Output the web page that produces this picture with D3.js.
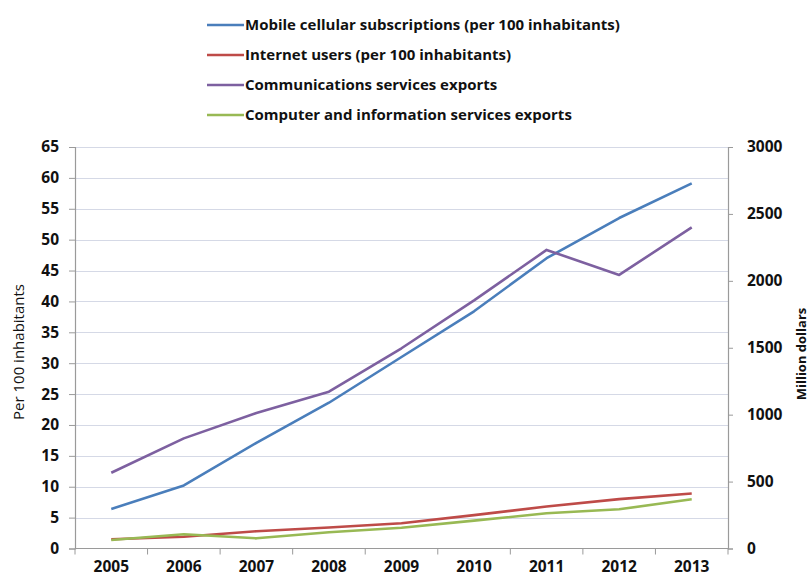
<!DOCTYPE html>
<html>
<head>
<meta charset="utf-8">
<script src="https://cdn.jsdelivr.net/npm/d3@7"></script>
<style>
  html, body { margin: 0; padding: 0; background: #fff; }
  svg { display: block; }
  text { font-family: "Open Sans", "DejaVu Sans", sans-serif; fill: #111; }
</style>
</head>
<body>
<svg id="chart" width="811" height="579"></svg>
<script>
// Years on the category axis
const years = ["2005", "2006", "2007", "2008", "2009", "2010", "2011", "2012", "2013"];

// Per 100 inhabitants (left axis)
const mobileSubs = [6.4, 10.2, 17.1, 23.6, 31.0, 38.4, 47.0, 53.5, 59.1];
const internetUsers = [1.5, 1.9, 2.8, 3.4, 4.1, 5.4, 6.8, 8.0, 8.9];

// Million dollars (right axis)
const commExports = [566, 823, 1012, 1172, 1496, 1854, 2231, 2044, 2400];
const computerExports = [63, 106, 76, 121, 155, 208, 263, 293, 368];

const leftTicks = [0, 5, 10, 15, 20, 25, 30, 35, 40, 45, 50, 55, 60, 65];
const rightTicks = [0, 500, 1000, 1500, 2000, 2500, 3000];

const seriesList = [
  { name: "Mobile cellular subscriptions (per 100 inhabitants)", values: mobileSubs, axis: "left", color: "#4a7ebb" },
  { name: "Internet users (per 100 inhabitants)", values: internetUsers, axis: "left", color: "#be4b48" },
  { name: "Communications services exports", values: commExports, axis: "right", color: "#7d60a0" },
  { name: "Computer and information services exports", values: computerExports, axis: "right", color: "#98b954" }
];

const svg = d3.select("#chart");
const plot = { left: 75, right: 728, top: 147, bottom: 548.5 };

const x = d3.scaleBand().domain(years).range([plot.left, plot.right]);
const yL = d3.scaleLinear().domain([0, 65]).range([plot.bottom, plot.top]);
const yR = d3.scaleLinear().domain([0, 3000]).range([plot.bottom, plot.top]);

// Horizontal gridlines on the left-axis ticks
svg.append("g")
  .selectAll("line")
  .data(leftTicks.filter(d => d > 0))
  .join("line")
  .attr("x1", plot.left).attr("x2", plot.right)
  .attr("y1", d => Math.round(yL(d)) + 0.5).attr("y2", d => Math.round(yL(d)) + 0.5)
  .attr("stroke", "#d5d9e6").attr("stroke-width", 1.2);

// Left axis
const gL = svg.append("g").attr("transform", `translate(${plot.left},0)`)
  .call(d3.axisLeft(yL).tickValues(leftTicks).tickSize(6).tickPadding(10));
// Right axis
const gR = svg.append("g").attr("transform", `translate(${plot.right},0)`)
  .call(d3.axisRight(yR).tickValues(rightTicks).tickFormat(d3.format("d")).tickSize(5).tickPadding(14));
// Bottom axis: labels centred in each band, ticks on band boundaries
const gB = svg.append("g").attr("transform", `translate(0,${plot.bottom})`)
  .call(d3.axisBottom(x).tickSize(0).tickPadding(12));
gB.selectAll(".tick").append("line")
  .attr("x1", -x.bandwidth() / 2).attr("x2", -x.bandwidth() / 2)
  .attr("y1", 0).attr("y2", 6)
  .attr("stroke", "#9a9a9a");
gB.append("line")
  .attr("x1", plot.right).attr("x2", plot.right).attr("y1", 0).attr("y2", 6)
  .attr("stroke", "#9a9a9a");

[gL, gR, gB].forEach(g => {
  g.selectAll(".domain").attr("stroke", "#9a9a9a").attr("stroke-width", 1.2);
  g.selectAll(".tick line").attr("stroke", "#9a9a9a");
  g.selectAll(".tick text")
    .attr("font-size", 15.5).attr("font-weight", 700)
    .style("font-family", "'Open Sans', sans-serif").attr("fill", "#111");
});
gB.select(".domain").attr("d", `M${plot.left},0H${plot.right}`);

// Axis titles
svg.append("text")
  .attr("transform", `translate(24,352) rotate(-90)`)
  .attr("text-anchor", "middle").attr("font-size", 15)
  .text("Per 100 inhabitants");
svg.append("text")
  .attr("transform", `translate(806,354) rotate(-90)`)
  .attr("text-anchor", "middle").attr("font-size", 13).attr("font-weight", 700)
  .text("Million dollars");

// Series lines
const lineFor = s => d3.line()
  .x((d, i) => x(years[i]) + x.bandwidth() / 2)
  .y(d => (s.axis === "left" ? yL : yR)(d));

svg.append("g")
  .selectAll("path")
  .data(seriesList)
  .join("path")
  .attr("d", s => lineFor(s)(s.values))
  .attr("fill", "none")
  .attr("stroke", s => s.color)
  .attr("stroke-width", 2.6)
  .attr("stroke-linejoin", "round");

// Legend
const legend = svg.append("g").attr("transform", "translate(207,25)");
const rows = legend.selectAll("g").data(seriesList).join("g")
  .attr("transform", (d, i) => `translate(0,${i * 30})`);
rows.append("line")
  .attr("x1", 0).attr("x2", 37).attr("y1", 0).attr("y2", 0)
  .attr("stroke", d => d.color).attr("stroke-width", 2.6);
rows.append("text")
  .attr("x", 38).attr("y", 0).attr("dy", "0.35em")
  .attr("font-size", 15).attr("font-weight", 700)
  .text(d => d.name);
</script>
</body>
</html>
